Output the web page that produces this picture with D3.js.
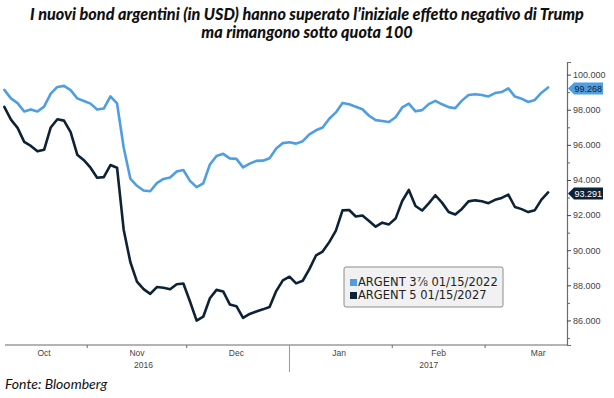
<!DOCTYPE html>
<html><head><meta charset="utf-8">
<script src="https://cdn.jsdelivr.net/npm/d3@7"></script>
<style>body{margin:0;background:#fff}</style>
</head><body><svg id="c" width="614" height="398"></svg>
<script>
const titleLines = ["I nuovi bond argentini (in USD) hanno superato l’iniziale effetto negativo di Trump", "ma rimangono sotto quota 100"];
const sourceText = "Fonte: Bloomberg";
const seriesNames = ["ARGENT 3⅞ 01/15/2022", "ARGENT 5 01/15/2027"];
const dates = [
 "2016-10-07","2016-10-09","2016-10-11","2016-10-13","2016-10-15","2016-10-17","2016-10-19","2016-10-21","2016-10-23","2016-10-25","2016-10-27","2016-10-29","2016-10-31",
 "2016-11-02","2016-11-04","2016-11-06","2016-11-08","2016-11-10","2016-11-12","2016-11-14","2016-11-16","2016-11-18","2016-11-20","2016-11-22","2016-11-24","2016-11-26","2016-11-28","2016-11-30",
 "2016-12-02","2016-12-04","2016-12-06","2016-12-08","2016-12-10","2016-12-12","2016-12-14","2016-12-16","2016-12-18","2016-12-20","2016-12-22","2016-12-24","2016-12-26","2016-12-28","2016-12-30",
 "2017-01-01","2017-01-03","2017-01-05","2017-01-07","2017-01-09","2017-01-11","2017-01-13","2017-01-15","2017-01-17","2017-01-19","2017-01-21","2017-01-23","2017-01-25","2017-01-27","2017-01-29","2017-01-31",
 "2017-02-02","2017-02-04","2017-02-06","2017-02-08","2017-02-10","2017-02-12","2017-02-14","2017-02-16","2017-02-18","2017-02-20","2017-02-22","2017-02-24","2017-02-26","2017-02-28",
 "2017-03-02","2017-03-04","2017-03-06","2017-03-08","2017-03-10","2017-03-12","2017-03-14","2017-03-16","2017-03-18","2017-03-20"];
const argent2022 = [
 99.13, 98.65, 98.38, 97.90, 98.02, 97.90, 98.18, 98.92, 99.30, 99.36,
 99.12, 98.65, 98.50, 98.35, 98.01, 98.07, 98.76, 98.36, 95.85, 94.08,
 93.67, 93.40, 93.36, 93.82, 94.06, 94.14, 94.48, 94.57, 93.95, 93.59,
 93.81, 94.88, 95.37, 95.49, 95.23, 95.20, 94.72, 94.93, 95.09, 95.10,
 95.24, 95.79, 96.10, 96.15, 96.07, 96.21, 96.60, 96.83, 96.99, 97.49,
 97.85, 98.39, 98.31, 98.17, 98.03, 97.66, 97.41, 97.36, 97.30, 97.57,
 98.13, 98.35, 97.91, 97.98, 98.32, 98.51, 98.31, 98.15, 98.09, 98.52,
 98.84, 98.88, 98.84, 98.76, 98.95, 99.01, 99.22, 98.75, 98.63, 98.44,
 98.56, 98.97, 99.268];
const argent2027 = [
 98.16, 97.44, 96.97, 96.17, 95.94, 95.63, 95.72, 96.99, 97.46, 97.38,
 96.72, 95.44, 95.13, 94.70, 94.13, 94.16, 94.85, 94.70, 91.17, 89.33,
 88.21, 87.78, 87.51, 87.90, 87.86, 87.78, 88.06, 88.10, 87.08, 85.99,
 86.21, 87.26, 87.74, 87.65, 86.91, 86.81, 86.14, 86.37, 86.51, 86.63,
 86.76, 87.67, 88.28, 88.49, 88.11, 88.26, 88.92, 89.70, 89.92, 90.46,
 91.12, 92.27, 92.29, 91.92, 91.98, 91.66, 91.34, 91.57, 91.47, 91.80,
 92.80, 93.43, 92.52, 92.26, 92.67, 93.13, 92.71, 92.18, 92.03, 92.35,
 92.78, 92.84, 92.79, 92.68, 92.87, 92.98, 93.17, 92.46, 92.34, 92.17,
 92.28, 92.88, 93.291];
const lastValues = [99.268, 93.291];
const yTickValues = [86, 88, 90, 92, 94, 96, 98, 100];
const yMinorTickValues = [85, 87, 89, 91, 93, 95, 97, 99];
const monthTickDates = ["2016-11-01", "2016-12-01", "2017-02-01", "2017-03-01"];
const yearBreakDates = ["2017-01-01"];
const monthLabels = ["Oct", "Nov", "Dec", "Jan", "Feb", "Mar"];
const monthLabelDates = ["2016-10-19", "2016-11-16", "2016-12-16", "2017-01-16", "2017-02-15", "2017-03-17"];
const yearLabels = ["2016", "2017"];
const yearLabelDates = ["2016-11-18", "2017-02-12"];
const colors = ["#4f9ee2", "#0e2235"];

const parse = d3.timeParse("%Y-%m-%d");
const svg = d3.select("#c");
const W = 614;
const plot = {left: 5, right: 567, top: 62, bottom: 345};

const x = d3.scaleTime().domain([parse("2016-10-06"), parse("2017-03-26")]).range([1, 568]);
const y = d3.scaleLinear().domain([84.6, 100.72]).range([plot.bottom, plot.top]);

// title
const fitText = (sel, target) => {
  const w = sel.node().getComputedTextLength();
  const fs = parseFloat(sel.attr("font-size"));
  sel.attr("font-size", (fs * target / w).toFixed(2));
};
const t1 = svg.append("text").attr("x", W / 2).attr("y", 20).attr("text-anchor", "middle")
  .attr("font-family", "Lato").attr("font-weight", "900").attr("font-style", "italic")
  .attr("font-size", 15).attr("fill", "#111").text(titleLines[0]);
fitText(t1, 554);
svg.append("text").attr("x", W / 2).attr("y", 38).attr("text-anchor", "middle")
  .attr("font-family", "Lato").attr("font-weight", "900").attr("font-style", "italic")
  .attr("font-size", t1.attr("font-size")).attr("fill", "#111").text(titleLines[1]);

// lines
const series = [argent2022, argent2027].map((vals, i) => ({
  name: seriesNames[i], color: colors[i],
  pts: dates.map((d, j) => ({date: parse(d), v: vals[j]}))
}));
const line = d3.line().x(d => x(d.date)).y(d => y(d.v));
svg.append("g").selectAll("path").data(series).join("path")
  .attr("d", d => line(d.pts)).attr("fill", "none").attr("stroke", d => d.color)
  .attr("stroke-width", 2.6).attr("stroke-linejoin", "round").attr("stroke-linecap", "round");

// bottom axis
const axisCol = "#6b6b6b";
svg.append("line").attr("x1", plot.left).attr("x2", plot.right).attr("y1", plot.bottom).attr("y2", plot.bottom)
  .attr("stroke", axisCol).attr("stroke-width", 1.2);
svg.append("g").selectAll("line").data(monthTickDates).join("line")
  .attr("x1", d => x(parse(d))).attr("x2", d => x(parse(d)))
  .attr("y1", plot.bottom).attr("y2", plot.bottom + 3).attr("stroke", axisCol);
svg.append("g").selectAll("line").data(yearBreakDates).join("line")
  .attr("x1", d => x(parse(d))).attr("x2", d => x(parse(d)))
  .attr("y1", plot.bottom).attr("y2", plot.bottom + 27).attr("stroke", "#9a9a9a");
svg.append("g").selectAll("text").data(monthLabels).join("text")
  .attr("x", (d, i) => x(parse(monthLabelDates[i]))).attr("y", 356)
  .attr("text-anchor", "middle").attr("font-family", "Liberation Sans").attr("font-size", 8.5)
  .attr("fill", "#444").text(d => d);
svg.append("g").selectAll("text").data(yearLabels).join("text")
  .attr("x", (d, i) => x(parse(yearLabelDates[i]))).attr("y", 368)
  .attr("text-anchor", "middle").attr("font-family", "Liberation Sans").attr("font-size", 8.5)
  .attr("fill", "#444").text(d => d);

// right axis
const yAxis = svg.append("g").attr("transform", `translate(${plot.right},0)`)
  .call(d3.axisRight(y).tickValues(yTickValues).tickFormat(d3.format(".3f")).tickSize(4).tickPadding(2));
yAxis.select(".domain").attr("stroke", axisCol).attr("stroke-width", 1.2);
yAxis.selectAll(".tick line").attr("stroke", "#444");
yAxis.selectAll(".tick text").attr("font-family", "Liberation Sans").attr("font-size", 9).attr("fill", "#444");
const yMinor = svg.append("g").attr("transform", `translate(${plot.right},0)`)
  .call(d3.axisRight(y).tickValues(yMinorTickValues).tickFormat("").tickSize(3));
yMinor.select(".domain").remove();
yMinor.selectAll(".tick line").attr("stroke", "#666");

// last value tags
const tagTextCol = ["#10233a", "#ffffff"];
lastValues.forEach((v, i) => {
  const cy = y(v) + 1;
  const g = svg.append("g");
  const x0 = plot.right + 1, x1 = x0 + 6, x2 = x0 + 35, h = 6;
  g.append("path").attr("d", `M${x0},${cy}L${x1},${cy - h}L${x2},${cy - h}L${x2},${cy + h}L${x1},${cy + h}Z`)
    .attr("fill", colors[i]);
  g.append("text").attr("x", x1 + 0.5).attr("y", cy + 3.2).attr("font-family", "Liberation Sans")
    .attr("font-size", 9).attr("fill", tagTextCol[i]).text(d3.format(".3f")(v));
});

// legend
const lg = svg.append("g").attr("transform", "translate(344,267)");
lg.append("rect").attr("width", 159).attr("height", 40).attr("rx", 2)
  .attr("fill", "#f1f1f1").attr("stroke", "#8c8c8c");
series.forEach((s, i) => {
  lg.append("rect").attr("x", 6).attr("y", 12 + i * 13).attr("width", 7).attr("height", 7).attr("fill", s.color);
  lg.append("text").attr("x", 14).attr("y", 19 + i * 13).attr("font-family", "DejaVu Sans")
    .attr("font-size", 11.5).attr("fill", "#222").text(s.name);
});

// source
svg.append("text").attr("x", 5).attr("y", 389).attr("font-family", "Lato").attr("font-style", "italic")
  .attr("font-size", 14).attr("fill", "#111").text(sourceText);
</script>
</body></html>
